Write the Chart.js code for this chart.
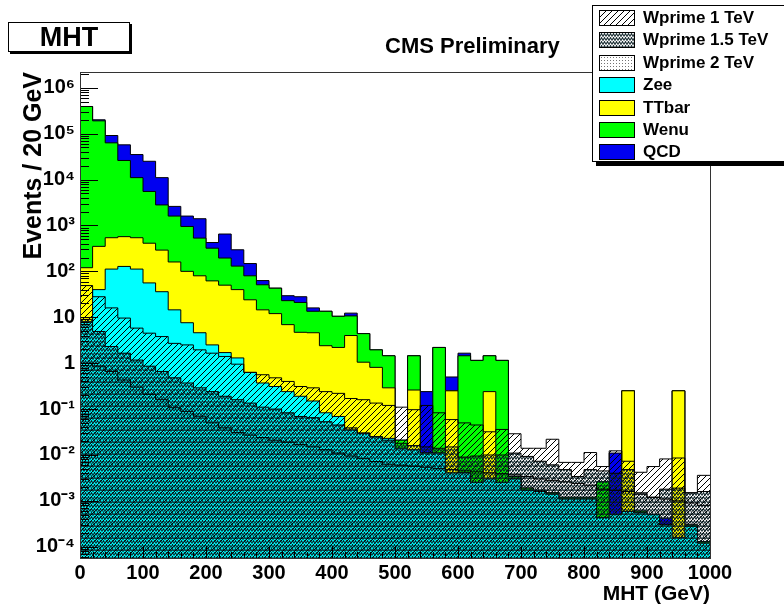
<!DOCTYPE html>
<html>
<head>
<meta charset="utf-8">
<title>MHT</title>
<script src="https://cdn.jsdelivr.net/npm/chart.js@4.4.0/dist/chart.umd.min.js"></script>
<style>
html, body { margin: 0; padding: 0; background: #fff; }
body {
    width: 784px; height: 607px; position: relative; overflow: hidden;
    font-family: "Liberation Sans", Arial, Helvetica, sans-serif; font-weight: bold; color: #000;
}
#chart { position: absolute; left: 0; top: 0; }
.titlebox {
    position: absolute; left: 8px; top: 22px; width: 120px; height: 28px;
    border: 1px solid #000; box-shadow: 2px 2px 0 #000; background: #fff;
    font-size: 27px; line-height: 29px; text-align: center;
}
.cms { position: absolute; left: 385px; top: 33px; font-size: 22px; white-space: nowrap; }
.legend {
    position: absolute; left: 592px; top: 5px; width: 200px; height: 155px;
    border: 1px solid #000; background: #fff; box-shadow: 4px 4px 0 #000;
}
.row { position: absolute; left: 6px; height: 16px; width: 190px; }
.row canvas { position: absolute; left: 0; top: 0; border: 1px solid #000; }
.row span { position: absolute; left: 44px; top: -2px; font-size: 17px; line-height: 20px; white-space: nowrap; }
</style>
</head>
<body>
<canvas id="chart" width="784" height="607"></canvas>
<div class="titlebox">MHT</div>
<div class="cms">CMS Preliminary</div>
<div class="legend" id="legend"></div>
<script>
// MHT in 20 GeV bins, 0 - 1000 GeV
const binWidth = 20;

// stack tops (cumulative): Zee, +TTbar, +Wenu, +QCD
const zeeTop = [8, 40, 112, 128, 112, 56, 36, 14.5, 7.6, 4.6,
    2.5, 1.7, 1.3, 0.63, 0.37, 0.31, 0.24, 0.19, 0.15, 0.083,
    0.069, 0.035, 0.03, 0.025, 0.023, 0.014, 0.013, 0.011, 0.011, 0.0041,
    0.0041, 0.0025, 0.003, 0.0025, 0.003, 0.0017, 0.0016, 0.0014, 0.0011, 0.0011,
    0.0011, 0.00043, 0.0005, 0.00059, 0.00055, 0.0005, 0.0003, 0.00016, 0.00028, 0.00012];
const ttbarTop = [120, 350, 540, 570, 540, 410, 290, 160, 100, 80,
    62, 50, 40, 24, 14.5, 12, 6.9, 4.7, 4.6, 2.4,
    2.2, 4.0, 1.05, 0.81, 0.29, 0.014, 0.26, 0.011, 0.011, 0.25,
    0.0041, 0.0025, 0.24, 0.0025, 0.003, 0.0017, 0.0016, 0.0014, 0.0011, 0.0011,
    0.0011, 0.00043, 0.0005, 0.25, 0.00055, 0.0005, 0.0003, 0.25, 0.00028, 0.00012];
const wenuTop = [3.9e5, 1.9e5, 6.3e4, 2.6e4, 1.1e4, 5500, 2800, 1600, 950, 530,
    320, 195, 130, 80, 51, 43, 23, 21, 13.5, 13.5,
    10.5, 10.7, 4.4, 1.95, 1.45, 0.021, 1.45, 0.011, 2.2, 0.25,
    1.45, 1.15, 1.45, 1.15, 0.0034, 0.0019, 0.0017, 0.0015, 0.0012, 0.0012,
    0.0012, 0.0026, 0.0005, 0.25, 0.0006, 0.0005, 0.0003, 0.25, 0.0003, 0.00013];
const qcdTop = [3.9e5, 2.0e5, 9.1e4, 5.7e4, 3.5e4, 2.5e4, 1.1e4, 2600, 1600, 1400,
    425, 650, 295, 148, 63, 43, 29.5, 28, 16, 13.5,
    10.5, 12.3, 4.4, 1.95, 1.45, 0.021, 1.45, 0.24, 2.2, 0.5,
    1.65, 1.15, 1.45, 1.15, 0.0034, 0.0019, 0.0017, 0.0015, 0.0012, 0.0012,
    0.0012, 0.0026, 0.011, 0.25, 0.0006, 0.0005, 0.00042, 0.25, 0.0003, 0.00013];

// signal samples, overlaid
const wprime1 = [49, 28, 16, 9.6, 5.8, 4.5, 3.8, 2.7, 2.5, 1.95,
    1.65, 1.4, 0.95, 0.63, 0.56, 0.48, 0.4, 0.31, 0.29, 0.24,
    0.22, 0.17, 0.16, 0.135, 0.12, 0.11, 0.097, 0.12, 0.083, 0.059,
    0.05, 0.045, 0.032, 0.036, 0.029, 0.014, 0.014, 0.022, 0.0069, 0.0069,
    0.0113, 0.0056, 0.0123, 0.0073, 0.0042, 0.0056, 0.0082, 0.0086, 0.0015, 0.0036];
const wprime15 = [9.0, 4.9, 2.3, 1.65, 1.17, 0.86, 0.66, 0.48, 0.37, 0.29,
    0.24, 0.19, 0.16, 0.135, 0.11, 0.1, 0.083, 0.069, 0.065, 0.053,
    0.045, 0.039, 0.03, 0.025, 0.021, 0.018, 0.016, 0.015, 0.014, 0.015,
    0.009, 0.0095, 0.01, 0.01, 0.011, 0.0093, 0.0073, 0.0061, 0.0048, 0.0034,
    0.0048, 0.0045, 0.004, 0.0048, 0.0015, 0.0012, 0.0018, 0.0019, 0.0015, 0.0016];
const wprime2 = [1.0, 0.86, 0.66, 0.43, 0.3, 0.21, 0.16, 0.107, 0.088, 0.07,
    0.05, 0.039, 0.031, 0.027, 0.024, 0.021, 0.019, 0.017, 0.015, 0.013,
    0.011, 0.0095, 0.0083, 0.0072, 0.0063, 0.006, 0.0057, 0.0054, 0.0051, 0.0048,
    0.0045, 0.0043, 0.0041, 0.0039, 0.0037, 0.0034, 0.003, 0.0028, 0.0026, 0.0024,
    0.0022, 0.0018, 0.0017, 0.0016, 0.0014, 0.0012, 0.0011, 0.001, 0.0009, 0.0008];

const xTicks = [0, 100, 200, 300, 400, 500, 600, 700, 800, 900, 1000];
const xTickLabels = ['0', '100', '200', '300', '400', '500', '600', '700', '800', '900', '1000'];
const yTicks = [1e-4, 1e-3, 1e-2, 1e-1, 1, 10, 1e2, 1e3, 1e4, 1e5, 1e6];
const yTickLabels = ['10\u207B\u2074', '10\u207B\u00B3', '10\u207B\u00B2', '10\u207B\u00B9', '1', '10',
    '10\u00B2', '10\u00B3', '10\u2074', '10\u2075', '10\u2076'];

// histogram -> step points at bin edges (last value repeated at the right edge)
function toSteps(vals) {
    const pts = vals.map((v, i) => ({ x: i * binWidth, y: v }));
    pts.push({ x: vals.length * binWidth, y: vals[vals.length - 1] });
    return pts;
}

function makePattern(w, h, draw) {
    const c = document.createElement('canvas');
    c.width = w; c.height = h;
    const g = c.getContext('2d');
    draw(g, w, h);
    return g.createPattern(c, 'repeat');
}

// ROOT-like fill styles
const hatch = makePattern(6, 6, function(g) {
    g.strokeStyle = '#000';
    g.lineWidth = 1;
    g.beginPath();
    g.moveTo(-1, 7); g.lineTo(7, -1);
    g.moveTo(-1, 1); g.lineTo(1, -1);
    g.moveTo(5, 7); g.lineTo(7, 5);
    g.stroke();
});
const wavy = makePattern(6, 4, function(g) {
    g.strokeStyle = 'rgba(10,30,35,0.9)';
    g.lineWidth = 1.1;
    g.beginPath();
    g.moveTo(0, 3.5); g.lineTo(1.5, 0.5); g.lineTo(3, 3.5); g.lineTo(4.5, 0.5); g.lineTo(6, 3.5);
    g.stroke();
});
const dots = makePattern(3, 3, function(g) {
    g.fillStyle = 'rgba(0,0,0,0.55)';
    g.fillRect(1, 1, 1, 1);
});

const samples = [
    { label: 'Wprime 1 TeV', fill: hatch, data: wprime1 },
    { label: 'Wprime 1.5 TeV', fill: wavy, data: wprime15 },
    { label: 'Wprime 2 TeV', fill: dots, data: wprime2 },
    { label: 'Zee', fill: '#00ffff', data: zeeTop },
    { label: 'TTbar', fill: '#ffff00', data: ttbarTop },
    { label: 'Wenu', fill: '#00ff00', data: wenuTop },
    { label: 'QCD', fill: '#0000f0', data: qcdTop }
];

// first dataset is painted last, so signals go on top of the stack
const drawOrder = ['Wprime 2 TeV', 'Wprime 1.5 TeV', 'Wprime 1 TeV', 'Zee', 'TTbar', 'Wenu', 'QCD'];
const datasets = drawOrder.map(function(name) {
    const s = samples.find(o => o.label === name);
    return {
        label: s.label,
        data: toSteps(s.data),
        stepped: true,
        fill: 'start',
        backgroundColor: s.fill,
        borderColor: '#000',
        borderWidth: 1,
        pointRadius: 0
    };
});

const frameTicks = {
    id: 'frameTicks',
    afterDatasetsDraw(chart) {
        const ctx = chart.ctx;
        const a = chart.chartArea;
        const x = chart.scales.x, y = chart.scales.y;
        ctx.save();
        ctx.strokeStyle = '#000';
        ctx.lineWidth = 1;
        ctx.beginPath();
        for (let e = -5; e <= 6; e++) {
            for (let m = 1; m <= 9; m++) {
                const v = m * Math.pow(10, e);
                if (v < y.min || v > y.max) continue;
                const py = Math.round(y.getPixelForValue(v)) + 0.5;
                ctx.moveTo(a.left, py);
                ctx.lineTo(a.left + (m === 1 ? 18 : 9), py);
            }
        }
        for (let v = 0; v <= 1000; v += binWidth) {
            const px = Math.round(x.getPixelForValue(v)) + 0.5;
            ctx.moveTo(px, a.bottom);
            ctx.lineTo(px, a.bottom - (v % 100 === 0 ? 12 : 6));
        }
        ctx.stroke();
        ctx.strokeStyle = '#333';
        ctx.strokeRect(a.left + 0.5, a.top + 0.5, a.right - a.left, a.bottom - a.top);
        ctx.restore();
    }
};

const tickFont = { family: '"Liberation Sans", Arial, sans-serif', weight: 'bold', size: 20 };
const titleFont = { family: '"Liberation Sans", Arial, sans-serif', weight: 'bold', size: 22 };

new Chart(document.getElementById('chart').getContext('2d'), {
    type: 'line',
    data: { datasets: datasets },
    options: {
        responsive: false,
        animation: false,
        devicePixelRatio: 1,
        layout: { padding: { left: 0, top: 72, right: 74, bottom: 0 } },
        plugins: {
            legend: { display: false },
            tooltip: { enabled: false }
        },
        scales: {
            x: {
                type: 'linear',
                min: 0,
                max: 1000,
                grid: { display: false, drawTicks: false },
                border: { display: false },
                afterBuildTicks: function(s) { s.ticks = xTicks.map(v => ({ value: v })); },
                afterFit: function(s) { s.height = 49; },
                ticks: {
                    color: '#000', font: tickFont, padding: 3, maxRotation: 0, autoSkip: false,
                    callback: function(v) { return xTickLabels[xTicks.indexOf(v)]; }
                },
                title: {
                    display: true, text: 'MHT (GeV)', align: 'end', color: '#000',
                    font: { family: tickFont.family, weight: 'bold', size: 21 }, padding: { top: 0, bottom: 0 }
                }
            },
            y: {
                type: 'logarithmic',
                min: 5.7e-5,
                max: 2.2e6,
                grid: { display: false, drawTicks: false },
                border: { display: false },
                afterBuildTicks: function(s) { s.ticks = yTicks.map(v => ({ value: v })); },
                afterFit: function(s) { s.width = 80; },
                ticks: {
                    color: '#000', font: tickFont, padding: 5, autoSkip: false,
                    callback: function(v) { return yTickLabels[yTicks.indexOf(v)]; }
                },
                title: {
                    display: true, text: 'Events / 20 GeV', align: 'end', color: '#000',
                    font: { family: tickFont.family, weight: 'bold', size: 25 }, padding: { top: 19, bottom: 0 }
                }
            }
        }
    },
    plugins: [frameTicks]
});

// legend box in ROOT style
const legend = document.getElementById('legend');
samples.forEach(function(s, i) {
    const row = document.createElement('div');
    row.className = 'row';
    row.style.top = (4 + i * 22.4) + 'px';
    const sw = document.createElement('canvas');
    sw.width = 34; sw.height = 14;
    const g = sw.getContext('2d');
    g.fillStyle = '#fff';
    g.fillRect(0, 0, 34, 14);
    g.fillStyle = s.fill;
    g.fillRect(0, 0, 34, 14);
    const txt = document.createElement('span');
    txt.textContent = s.label;
    row.appendChild(sw);
    row.appendChild(txt);
    legend.appendChild(row);
});
</script>
</body>
</html>
